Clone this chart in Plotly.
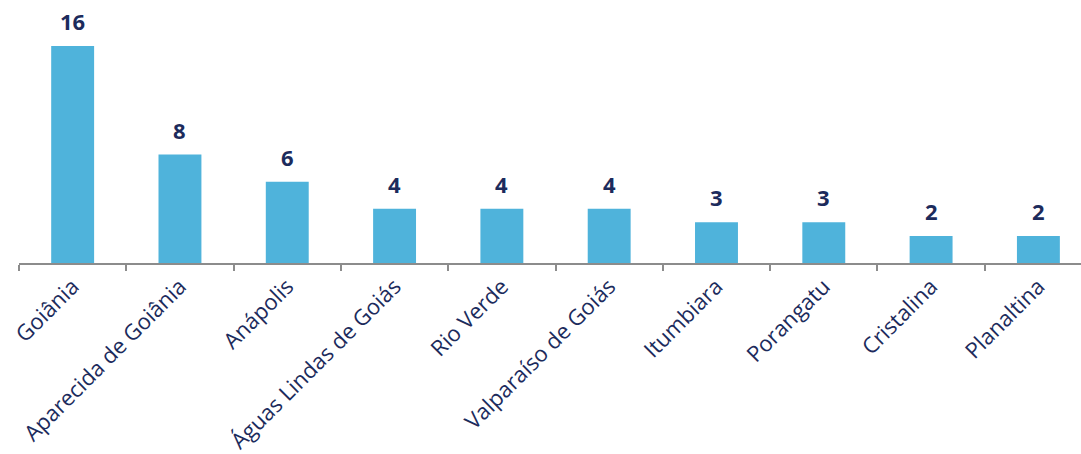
import plotly.graph_objects as go

categories = ["Goiânia", "Aparecida de Goiânia", "Anápolis", "Águas Lindas de Goiás",
              "Rio Verde", "Valparaíso de Goiás", "Itumbiara", "Porangatu",
              "Cristalina", "Planaltina"]
values = [16, 8, 6, 4, 4, 4, 3, 3, 2, 2]

navy = "#1C2B5C"
bar_color = "#4FB3DB"

fig = go.Figure()
fig.add_trace(go.Bar(
    x=categories, y=values,
    marker=dict(color=bar_color, line=dict(width=0)),
    hoverinfo="skip",
))

for c, v in zip(categories, values):
    fig.add_annotation(
        x=c, y=v, text=f"<b>{v}</b>", showarrow=False,
        yanchor="bottom", yshift=8,
        font=dict(family="Open Sans", size=22, color=navy),
    )

fig.update_layout(
    width=1081, height=454,
    margin=dict(l=19, r=0, t=20, b=191),
    plot_bgcolor="white", paper_bgcolor="white",
    bargap=0.6, showlegend=False,
    xaxis=dict(
        type="category",
        range=[-0.5, 9.397],
        showline=True, linecolor="#8C8C8C", linewidth=2,
        ticks="outside", tickson="boundaries", ticklen=6, tickwidth=2, tickcolor="#8C8C8C",
        tickangle=-45,
        tickfont=dict(family="Open Sans", size=22, color=navy),
        showgrid=False, zeroline=False, automargin=False,
    ),
    yaxis=dict(
        range=[0, 17.92], visible=False, showgrid=False, zeroline=False,
    ),
)

fig.write_html(
    "out.html",
    config={"displayModeBar": False},
    post_script="document.body.style.margin='0';document.body.style.overflow='hidden';",
)
